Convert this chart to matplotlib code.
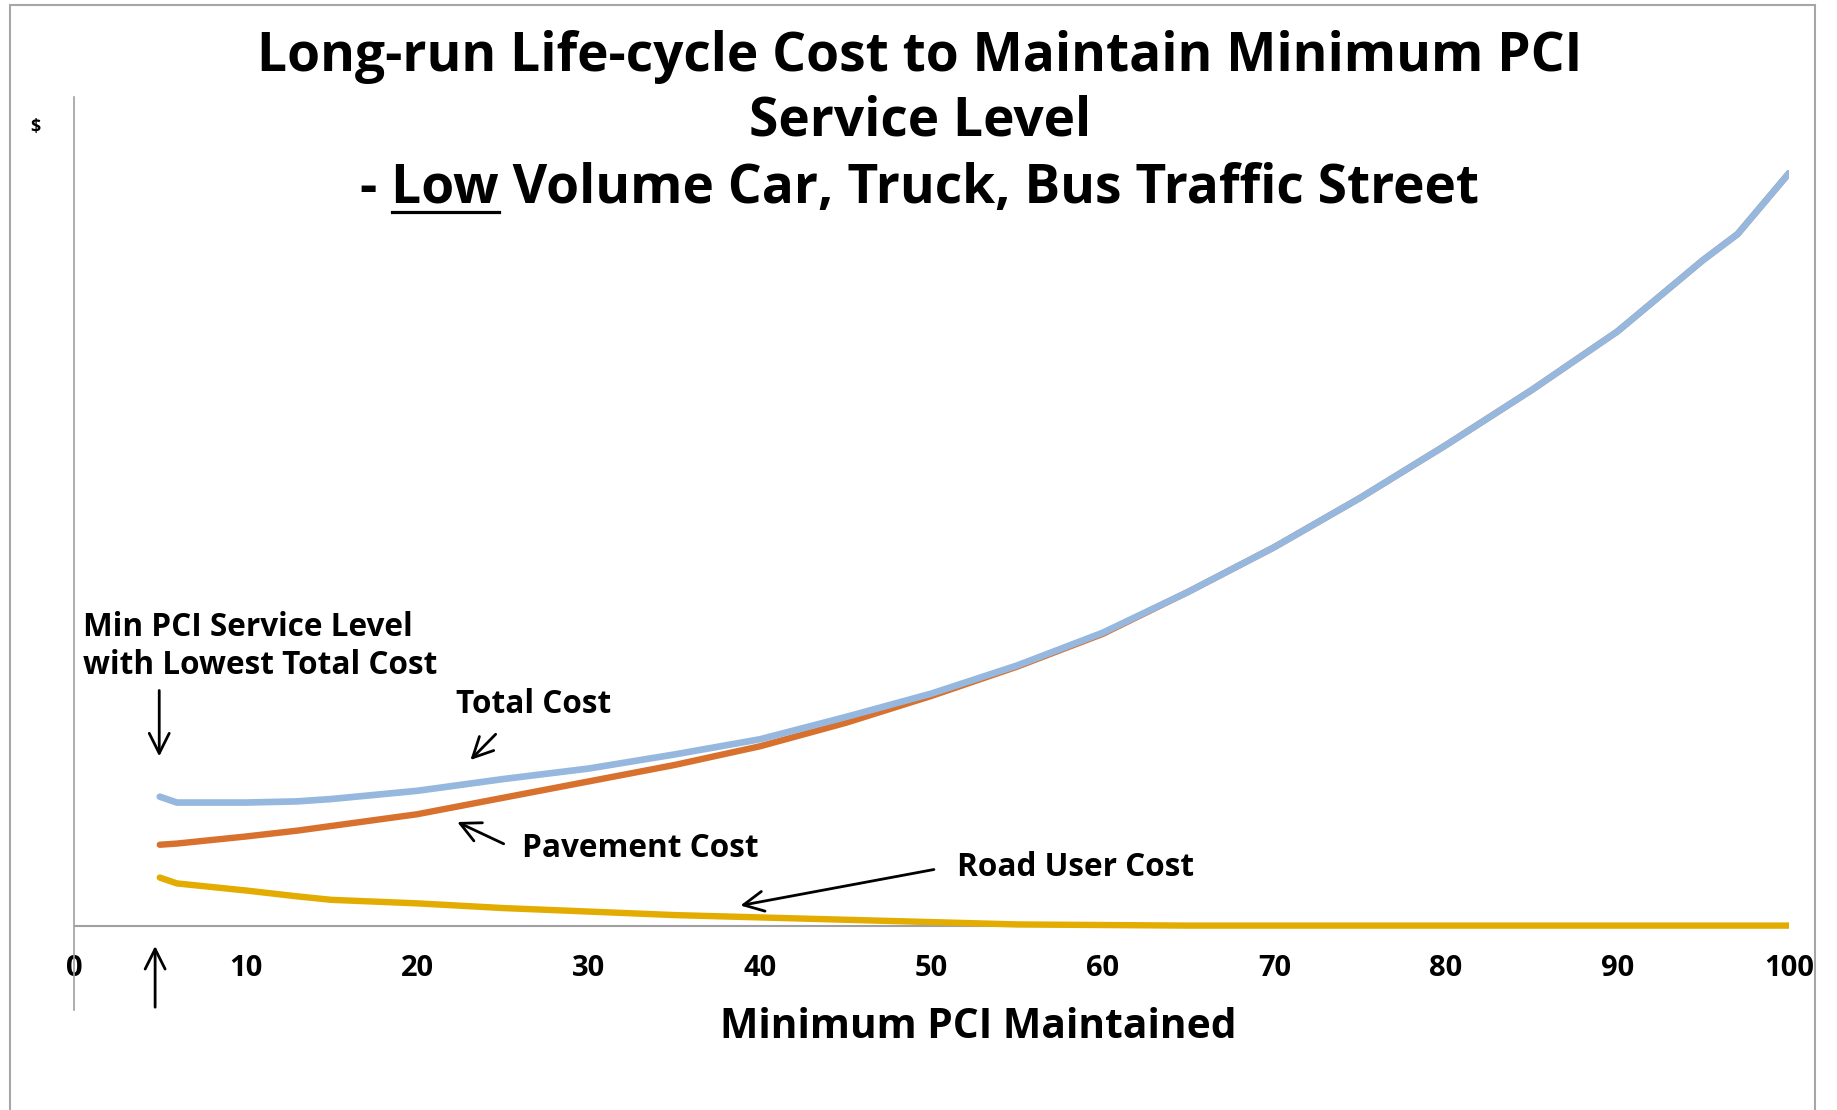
import matplotlib
matplotlib.use("Agg")
import matplotlib.pyplot as plt
from matplotlib.lines import Line2D
from matplotlib.patches import Rectangle

plt.rcParams['font.family'] = ['Open Sans', 'DejaVu Sans']

# data (cost has no units on the chart)
pci = [5, 6, 8, 10, 13, 15, 20, 25, 30, 35, 40, 45, 50, 55, 60, 65, 70, 75, 80, 85, 90, 95, 97, 100]
total_cost = [110, 105, 105, 105, 106, 108, 115, 125, 134, 146, 159, 178, 198, 222, 250, 285, 323, 365, 410, 457, 507, 568, 590, 642]
pavement_cost = [69, 70, 73, 76, 81, 85, 95, 109, 123, 137, 153, 173, 196, 221, 249, 285, 323, 365, 410, 457, 507, 568, 590, 642]
road_user_cost = [41, 36, 33, 30, 25, 22, 19, 15, 12, 9, 7, 5, 3, 1, 0.5, 0, 0, 0, 0, 0, 0, 0, 0, 0]
xticks = [0, 10, 20, 30, 40, 50, 60, 70, 80, 90, 100]

W, H = 1837, 1110
fig = plt.figure(figsize=(W / 100, H / 100), dpi=100)


def fx(px):
    return px / W


def fy(py):
    return 1 - py / H


# outer frame
fig.patches.append(Rectangle((fx(10), fy(1120)), fx(1815) - fx(10), fy(5) - fy(1120),
                             transform=fig.transFigure, fill=False, ec='#a6a6a6', lw=1.5))

ax = fig.add_axes([fx(74), fy(1010), fx(1789) - fx(74), fy(97) - fy(1010)])
ax.set_xlim(0, 100)
ax.set_ylim(-72, 707)
for s in ['top', 'right', 'bottom']:
    ax.spines[s].set_visible(False)
ax.spines['left'].set_color('#a0a0a0')
ax.spines['left'].set_linewidth(1.2)
ax.axhline(0, color='#a0a0a0', lw=1.5, zorder=1)
ax.set_yticks([])
ax.set_xticks(xticks)
ax.set_xticklabels([str(t) for t in xticks], fontsize=21, fontweight='bold')
ax.tick_params(axis='x', length=0, pad=-40)

ax.plot(pci, road_user_cost, color='#e3ac00', lw=4.6, solid_capstyle='round', zorder=3)
ax.plot(pci, pavement_cost, color='#d8702e', lw=4.6, solid_capstyle='round', zorder=3)
ax.plot(pci, total_cost, color='#96b8df', lw=4.8, solid_capstyle='round', zorder=4)

# titles
tsize = 38.3
fig.text(fx(920), fy(57), 'Long-run Life-cycle Cost to Maintain Minimum PCI',
         ha='center', va='center', fontsize=tsize, fontweight='bold')
fig.text(fx(920), fy(122), 'Service Level', ha='center', va='center', fontsize=tsize, fontweight='bold')
line3 = fig.text(fx(920), fy(189), '- Low Volume Car, Truck, Bus Traffic Street',
                 ha='center', va='center', fontsize=tsize, fontweight='bold')

# underline "Low" using measured text extents
fig.canvas.draw()
r = fig.canvas.get_renderer()
bb = line3.get_window_extent(r)
tmp = fig.text(0, 0, '- ', fontsize=tsize, fontweight='bold')
w1 = tmp.get_window_extent(r).width
tmp.set_text('- Low')
w2 = tmp.get_window_extent(r).width
tmp.remove()
fig.lines.append(Line2D([(bb.x0 + w1) / W, (bb.x0 + w2) / W], [fy(212), fy(212)],
                        transform=fig.transFigure, color='black', lw=2.3))

fig.text(fx(35), fy(127), '$', ha='center', va='center', fontsize=13, fontweight='bold')

ax.set_xlabel('Minimum PCI Maintained', fontsize=29.3, fontweight='bold')
ax.xaxis.set_label_coords((978 - 74) / 1715, (1010 - 1028) / 913)
ax.xaxis.label.set_va('center')

# annotations
asize = 22.7
ax.text(0.5, 238, 'Min PCI Service Level\nwith Lowest Total Cost', fontsize=asize,
        fontweight='bold', va='center', ha='left', linespacing=1.22)
arrow = dict(arrowstyle='->,head_length=0.4,head_width=0.2', color='black', lw=2, mutation_scale=36)
ax.annotate('', xy=(4.97, 142), xytext=(4.97, 203), arrowprops=arrow)
ax.annotate('', xy=(4.73, -15), xytext=(4.73, -72), arrowprops=arrow, annotation_clip=False)

ax.text(22.3, 189, 'Total Cost', fontsize=asize, fontweight='bold', va='center', ha='left')
ax.annotate('', xy=(23.0, 139.6), xytext=(24.7, 165), arrowprops=arrow)

ax.text(26.1, 66, 'Pavement Cost', fontsize=asize, fontweight='bold', va='center', ha='left')
ax.annotate('', xy=(22.2, 89.4), xytext=(25.2, 68.8), arrowprops=arrow)

ax.text(51.5, 50, 'Road User Cost', fontsize=asize, fontweight='bold', va='center', ha='left')
ax.annotate('', xy=(38.7, 16.7), xytext=(50.3, 48.3), arrowprops=arrow)

fig.savefig('out.png', dpi=100)
